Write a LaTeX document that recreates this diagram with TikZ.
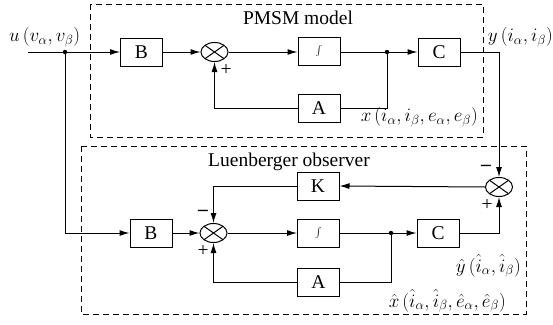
\RequirePackage{fix-cm}
\documentclass[tikz,border=0pt]{standalone}
\usepackage{fontspec}
\setmainfont{Liberation Serif}
\usetikzlibrary{arrows.meta,shapes.geometric}
\tikzset{
  blk/.style={draw, line width=1pt, minimum width=42pt, minimum height=28pt, inner sep=0pt},
  summ/.style={draw, line width=1pt, ellipse, minimum width=27pt, minimum height=19pt, inner sep=0pt,
    path picture={\draw[line width=1pt] (path picture bounding box.south west)++(4pt,2.8pt) -- ([xshift=-4pt,yshift=-2.8pt]path picture bounding box.north east);
      \draw[line width=1pt] ([xshift=4pt,yshift=-2.8pt]path picture bounding box.north west) -- ([xshift=-4pt,yshift=2.8pt]path picture bounding box.south east);}},
  sig/.style={line width=1pt},
  arr/.style={line width=1pt, -{Latex[length=10pt,width=6pt]}},
  frame/.style={dashed, dash pattern=on 6pt off 4pt, line width=0.8pt},
  lbl/.style={inner sep=0pt},
  mlbl/.style={inner sep=0pt, font=\fontsize{19}{21}\selectfont},
  dotn/.style={circle, fill, inner sep=0pt, minimum size=4.5pt}
}
\begin{document}
\begin{tikzpicture}[x=1pt,y=-1pt,font=\fontsize{19.5}{21}\selectfont]
\useasboundingbox (0,0) rectangle (553,324);
% frames
\draw[frame] (90,4) rectangle (483,137);
\draw[frame] (81,146) rectangle (526,314);
\node[lbl] (pmsm) at (298,18) {PMSM model};
\node[lbl] (luen) at (289,162) {Luenberger observer};
% top row
\coordinate (uin) at (28,52);
\node[dotn] (ud) at (65,52) {};
\node[blk] (B1) at (141.5,52) {B};
\node[summ] (S1) at (214.5,52) {};
\node[blk] (I1) at (319,51) {$\int$};
\node[dotn] (xd) at (387,52) {};
\node[blk] (C1) at (439,52) {C};
\node[blk] (A1) at (319,108) {A};
\node[mlbl, anchor=west] (ulab) at (9,37) {$u\,(v_\alpha, v_\beta)$};
\node[mlbl, anchor=east] (ylab) at (553,37) {$y\,(i_\alpha, i_\beta)$};
\node[mlbl, anchor=east] (xlab) at (478,117) {$x\,(i_\alpha, i_\beta, e_\alpha, e_\beta)$};
\draw[sig] (uin) -- (ud);
\draw[arr] (ud) -- (B1);
\draw[arr] (B1) -- (S1);
\draw[arr] (S1) -- (I1.west |- S1);
\draw[sig] (I1.east |- S1) -- (xd);
\draw[arr] (xd) -- (C1.west |- xd);
\draw[sig] (xd) |- (A1.east);
\draw[arr] (A1.west) -| (S1.south);
\node[lbl] at (226,70) {+};
% bottom
\node[summ] (S3) at (499,187) {};
\node[blk] (K) at (318,186) {K};
\node[blk] (B2) at (151,233) {B};
\node[summ] (S2) at (213.5,233) {};
\node[blk] (I2) at (318.5,233) {$\int$};
\node[dotn] (xd2) at (391,233) {};
\node[blk] (C2) at (438,233) {C};
\node[blk] (A2) at (318.5,282) {A};
\node[mlbl, anchor=east] (yhl) at (521,266) {$\hat{y}\,(\hat{i}_\alpha, \hat{i}_\beta)$};
\node[mlbl, anchor=east] (xhl) at (506,301) {$\hat{x}\,(\hat{i}_\alpha, \hat{i}_\beta, \hat{e}_\alpha, \hat{e}_\beta)$};
\draw[arr] (C1.east) -| (S3.north);
\draw[arr] (ud) |- (B2.west);
\draw[arr] (B2) -- (S2);
\draw[arr] (S2) -- (I2);
\draw[sig] (I2) -- (xd2);
\draw[arr] (xd2) -- (C2);
\draw[sig] (xd2) |- (A2.east);
\draw[arr] (A2.west) -| (S2.south);
\draw[arr] (C2.east) -| (S3.south);
\draw[arr] (S3.west) -- (K.east);
\draw[arr] (K.west) -| (S2.north);
\node[lbl] at (486,168) {\textbf{--}};
\node[lbl] at (487,205) {+};
\node[lbl] at (203,213) {\textbf{--}};
\node[lbl] at (203,251) {+};
\end{tikzpicture}
\end{document}
